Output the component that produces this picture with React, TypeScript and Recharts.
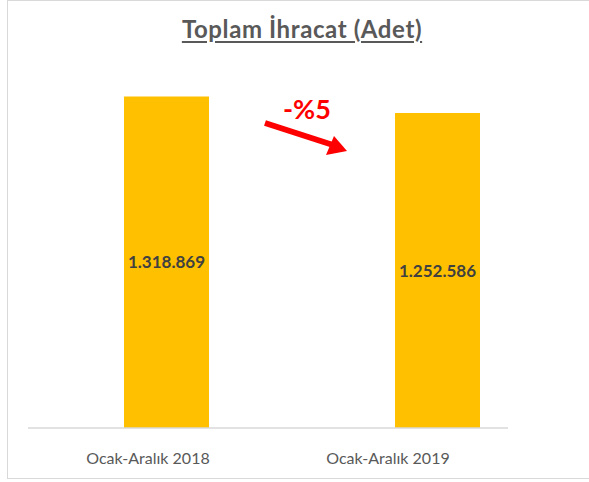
import React from "react";
import { BarChart, Bar, XAxis, YAxis, LabelList } from "recharts";

const periods = ["Ocak-Aralık 2018", "Ocak-Aralık 2019"];
const exportCounts = [1318869, 1252586];
const yDomain: [number, number] = [0, 1400000];
const changeLabel = "-%5";

const data = periods.map((name, i) => ({ name, value: exportCounts[i] }));

const fmt = (v: number | string) =>
  String(v).replace(/\B(?=(\d{3})+(?!\d))/g, ".");

const font = "Lato, 'Open Sans', sans-serif";

export default function App() {
  return (
    <div
      style={{
        position: "absolute",
        left: 0,
        top: 0,
        width: 589,
        height: 482,
        overflow: "hidden",
        background: "#fff",
        fontFamily: font,
      }}
    >
      <div
        style={{
          position: "absolute",
          left: 7,
          top: 0,
          width: 620,
          height: 479,
          border: "1.5px solid #d9d9d9",
          boxSizing: "border-box",
        }}
      />
      <div
        style={{
          position: "absolute",
          left: 0,
          top: 14,
          width: 604,
          textAlign: "center",
          fontSize: 24,
          letterSpacing: 0.6,
          fontWeight: 700,
          color: "#595959",
          textDecoration: "underline",
          textUnderlineOffset: 3,
        }}
      >
        Toplam İhracat (Adet)
      </div>
      <BarChart
        width={589}
        height={482}
        data={data}
        margin={{ top: 76, right: 81, bottom: 24, left: 28 }}
        style={{ position: "absolute", left: 0, top: 0 }}
      >
        <YAxis hide domain={yDomain} />
        <XAxis
          xAxisId="labels"
          dataKey="name"
          height={30}
          axisLine={{ stroke: "#d9d9d9", strokeWidth: 1.5 }}
          tickLine={false}
          tickMargin={19}
          tick={{ fill: "#595959", fontSize: 16, fontFamily: font }}
        />
        <XAxis
          xAxisId="bars"
          dataKey="name"
          hide
          height={0}
          padding={{ left: 3, right: -65 }}
        />
        <Bar
          xAxisId="bars"
          dataKey="value"
          fill="#FFC000"
          barSize={85}
          isAnimationActive={false}
        >
          <LabelList
            dataKey="value"
            position="center"
            formatter={fmt}
            fill="#404040"
            fontSize={17}
            fontWeight={700}
            fontFamily={font}
          />
        </Bar>
      </BarChart>
      <div
        style={{
          position: "absolute",
          left: 283,
          top: 92,
          fontSize: 27,
          fontWeight: 700,
          color: "#ff0000",
        }}
      >
        {changeLabel}
      </div>
      <svg
        width={589}
        height={482}
        style={{ position: "absolute", left: 0, top: 0, pointerEvents: "none" }}
      >
        <line x1={265} y1={123} x2={333} y2={145} stroke="#ff0000" strokeWidth={6} />
        <polygon points="347,151 326,155 334,136" fill="#ff0000" />
      </svg>
    </div>
  );
}
